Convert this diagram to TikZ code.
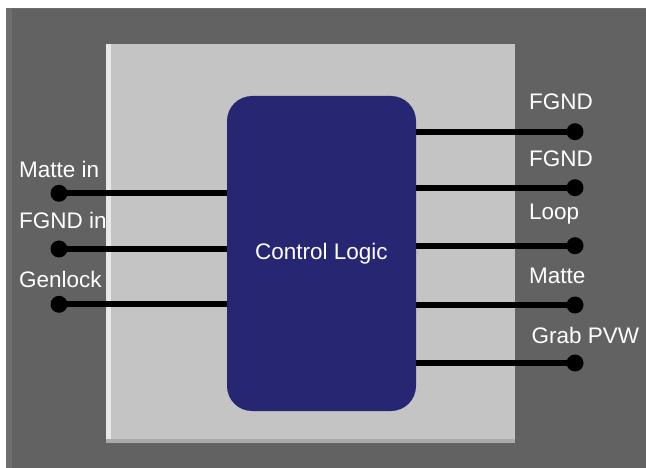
\documentclass[tikz,border=0pt]{standalone}
\usepackage{fontspec}
\setmainfont{Liberation Sans}
\definecolor{outerbg}{RGB}{98,98,98}
\definecolor{outeredge}{RGB}{110,110,110}
\definecolor{innerbg}{RGB}{196,196,196}
\definecolor{inneredge}{RGB}{232,232,232}
\definecolor{innerbot}{RGB}{170,170,170}
\definecolor{logicblue}{RGB}{38,38,115}
\begin{document}
\begin{tikzpicture}[x=1pt,y=-1pt,
  lbl/.style={text=white,font=\fontsize{22.5}{24}\selectfont,anchor=base west,inner sep=0pt},
  pin/.style={circle,fill=black,minimum size=17pt,inner sep=0pt},
  wire/.style={line width=6pt,black},
  logicbox/.style={fill=logicblue,rounded corners=25pt,minimum width=189pt,minimum height=315pt,inner sep=0pt,text=white,font=\fontsize{22.5}{24}\selectfont}]
\useasboundingbox (0,0) rectangle (646,468);
\fill[white] (0,0) rectangle (646,468);
% outer panel
\fill[outerbg] (6,8) rectangle (646,468);
\fill[outeredge] (6,8) rectangle (12,468);
\draw[outeredge,line width=1pt] (6,8.5) -- (646,8.5);
% inner panel
\fill[innerbg] (106,44) rectangle (515,443);
\fill[inneredge] (106,44) rectangle (111,443);
\fill[innerbot] (106,439) rectangle (515,443);
% control logic
\node[logicbox] (logic) at (321.5,253.5) {Control Logic};
% left pins
\node[pin] (pin1) at (59,193.3) {};
\node[pin] (pin2) at (59,249) {};
\node[pin] (pin3) at (59,304.3) {};
\foreach \p in {pin1,pin2,pin3} \draw[wire] (\p.center) -- (logic.west |- \p.center);
% right pins
\node[pin] (pout1) at (575,131.7) {};
\node[pin] (pout2) at (575,187.7) {};
\node[pin] (pout3) at (575,245.7) {};
\node[pin] (pout4) at (575,305) {};
\node[pin] (pout5) at (575,363) {};
\foreach \p in {pout1,pout2,pout3,pout4,pout5} \draw[wire] (logic.east |- \p.center) -- (\p.center);
% labels
\node[lbl] (lmatte) at (19,177.7) {Matte in};
\node[lbl] (lfgnd) at (19,229) {FGND in};
\node[lbl] (lgen) at (19,287.7) {Genlock};
\node[lbl] (rfgnd1) at (529,110) {FGND};
\node[lbl] (rfgnd2) at (529,166.7) {FGND};
\node[lbl] (rloop) at (529,220) {Loop};
\node[lbl] (rmatte) at (529,283.3) {Matte};
\node[lbl] (rgrab) at (531.5,343.3) {Grab PVW};
\end{tikzpicture}
\end{document}
